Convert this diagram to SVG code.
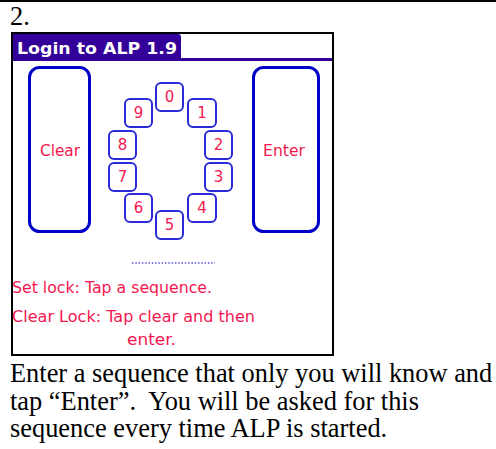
<svg xmlns="http://www.w3.org/2000/svg" width="496" height="449" viewBox="0 0 496 449">
<style>
.doc{font-family:"Liberation Serif","Times New Roman",serif;font-size:26.4px;fill:#000;white-space:pre}
.palm{font-family:"DejaVu Sans","Liberation Sans",sans-serif;fill:#f5164f}
.big{fill:none;stroke:#0000c8;stroke-width:3}
.key{fill:none;stroke:#2a2ad8;stroke-width:2}
.dig{font-family:"DejaVu Sans","Liberation Sans",sans-serif;font-size:15px;fill:#f5164f;text-anchor:middle}
</style>
<rect x="0" y="0" width="496" height="2" fill="#000"/>
<text class="doc" x="10" y="25">2.</text>
<g id="screen">
<rect x="12" y="33" width="321" height="322" fill="#fff" stroke="#000" stroke-width="2"/>
<path d="M13,34 H178 Q181,34 181,37 V58 H332 V61 H13 Z" fill="#330099"/>
<text x="17" y="54" font-family="DejaVu Sans,Liberation Sans,sans-serif" font-weight="bold" font-size="15" fill="#fff" textLength="160" lengthAdjust="spacingAndGlyphs">Login to ALP 1.9</text>
</g>
<g id="clear">
<rect class="big" x="29.5" y="67.5" width="60" height="164" rx="10"/>
<text class="palm" x="40" y="156" font-size="16" textLength="40" lengthAdjust="spacingAndGlyphs">Clear</text>
</g>
<g id="enter">
<rect class="big" x="253.5" y="67.5" width="65" height="164" rx="10"/>
<text class="palm" x="263" y="156" font-size="16" textLength="42" lengthAdjust="spacingAndGlyphs">Enter</text>
</g>
<g id="k0"><rect class="key" x="156" y="83" width="27" height="28" rx="5"/><text class="dig" x="169.5" y="102">0</text></g>
<g id="k1"><rect class="key" x="188" y="99" width="28" height="28" rx="5"/><text class="dig" x="202" y="118">1</text></g>
<g id="k2"><rect class="key" x="205" y="131" width="27" height="28" rx="5"/><text class="dig" x="218.5" y="150">2</text></g>
<g id="k3"><rect class="key" x="205" y="163" width="27" height="28" rx="5"/><text class="dig" x="218.5" y="182">3</text></g>
<g id="k4"><rect class="key" x="188" y="194" width="28" height="28" rx="5"/><text class="dig" x="202" y="213">4</text></g>
<g id="k5"><rect class="key" x="156" y="211" width="27" height="28" rx="5"/><text class="dig" x="169.5" y="230">5</text></g>
<g id="k6"><rect class="key" x="125" y="194" width="27" height="28" rx="5"/><text class="dig" x="138.5" y="213">6</text></g>
<g id="k7"><rect class="key" x="109" y="163" width="27" height="28" rx="5"/><text class="dig" x="122.5" y="182">7</text></g>
<g id="k8"><rect class="key" x="109" y="131" width="27" height="28" rx="5"/><text class="dig" x="122.5" y="150">8</text></g>
<g id="k9"><rect class="key" x="125" y="99" width="27" height="28" rx="5"/><text class="dig" x="138.5" y="118">9</text></g>
<g id="connectors">
<line x1="132" y1="263" x2="215" y2="263" stroke="#5555dd" stroke-width="1.5" stroke-dasharray="1.5 1.8"/>
</g>
<g id="messages">
<text class="palm" x="12" y="293" font-size="15" textLength="200" lengthAdjust="spacingAndGlyphs">Set lock: Tap a sequence.</text>
<text class="palm" x="12" y="322" font-size="15" textLength="243" lengthAdjust="spacingAndGlyphs">Clear Lock: Tap clear and then</text>
<text class="palm" x="127" y="345" font-size="15" textLength="49" lengthAdjust="spacingAndGlyphs">enter.</text>
</g>
<g id="caption">
<text class="doc" x="10" y="382">Enter a sequence that only you will know and</text>
<text class="doc" x="10" y="410">tap “Enter”.  You will be asked for this</text>
<text class="doc" x="10" y="437">sequence every time ALP is started.</text>
</g>
</svg>
